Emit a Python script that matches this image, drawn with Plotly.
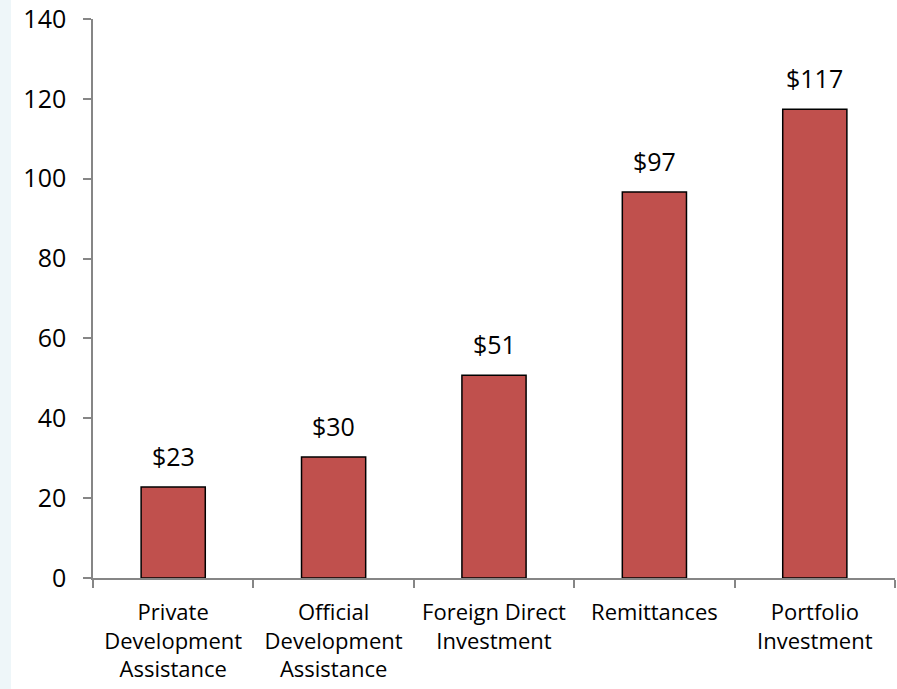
import plotly.graph_objects as go

categories = ["Private<br>Development<br>Assistance", "Official<br>Development<br>Assistance",
              "Foreign Direct<br>Investment", "Remittances", "Portfolio<br>Investment"]
values = [22.8, 30.3, 50.8, 96.7, 117.4]
labels = ["$23", "$30", "$51", "$97", "$117"]
y_ticks = [0, 20, 40, 60, 80, 100, 120, 140]

FONT = "Open Sans, Liberation Sans, sans-serif"

fig = go.Figure()
fig.add_trace(go.Bar(
    x=categories, y=values,
    marker=dict(color="#C0504D", line=dict(color="black", width=1.5)),
    width=0.4,
))

for c, v, s in zip(categories, values, labels):
    fig.add_annotation(x=c, y=v, text=s, showarrow=False, yanchor="bottom", yshift=12,
                       font=dict(size=25, family=FONT, color="black"))

W, H = 897, 689
l, r, t, b = 93, 2, 19, 111
pw = W - l - r
ph = H - t - b

fig.add_shape(type="rect", xref="paper", yref="paper",
              x0=-l / pw, x1=(11 - l) / pw, y0=-b / ph - 0.05, y1=1 + t / ph + 0.05,
              fillcolor="#EEF6F9", line=dict(width=0), layer="below")

fig.update_layout(
    width=W, height=H,
    margin=dict(l=l, r=r, t=t, b=b),
    paper_bgcolor="white", plot_bgcolor="white",
    showlegend=False,
    font=dict(family=FONT, color="black"),
)
fig.update_xaxes(
    showline=True, linecolor="#868686", linewidth=1.5,
    ticks="outside", tickson="boundaries", ticklen=8, tickcolor="#868686", tickwidth=1.5,
    tickfont=dict(size=22, family=FONT, color="black"),
    ticklabelstandoff=14,
    showgrid=False,
)
fig.update_yaxes(
    range=[0, 140], tickvals=y_ticks,
    showline=True, linecolor="#868686", linewidth=1.5,
    ticks="outside", ticklen=8, tickcolor="#868686", tickwidth=1.5,
    tickfont=dict(size=25, family=FONT, color="black"),
    ticklabelstandoff=12,
    showgrid=False, zeroline=False,
)

fig.write_html("out.html")
